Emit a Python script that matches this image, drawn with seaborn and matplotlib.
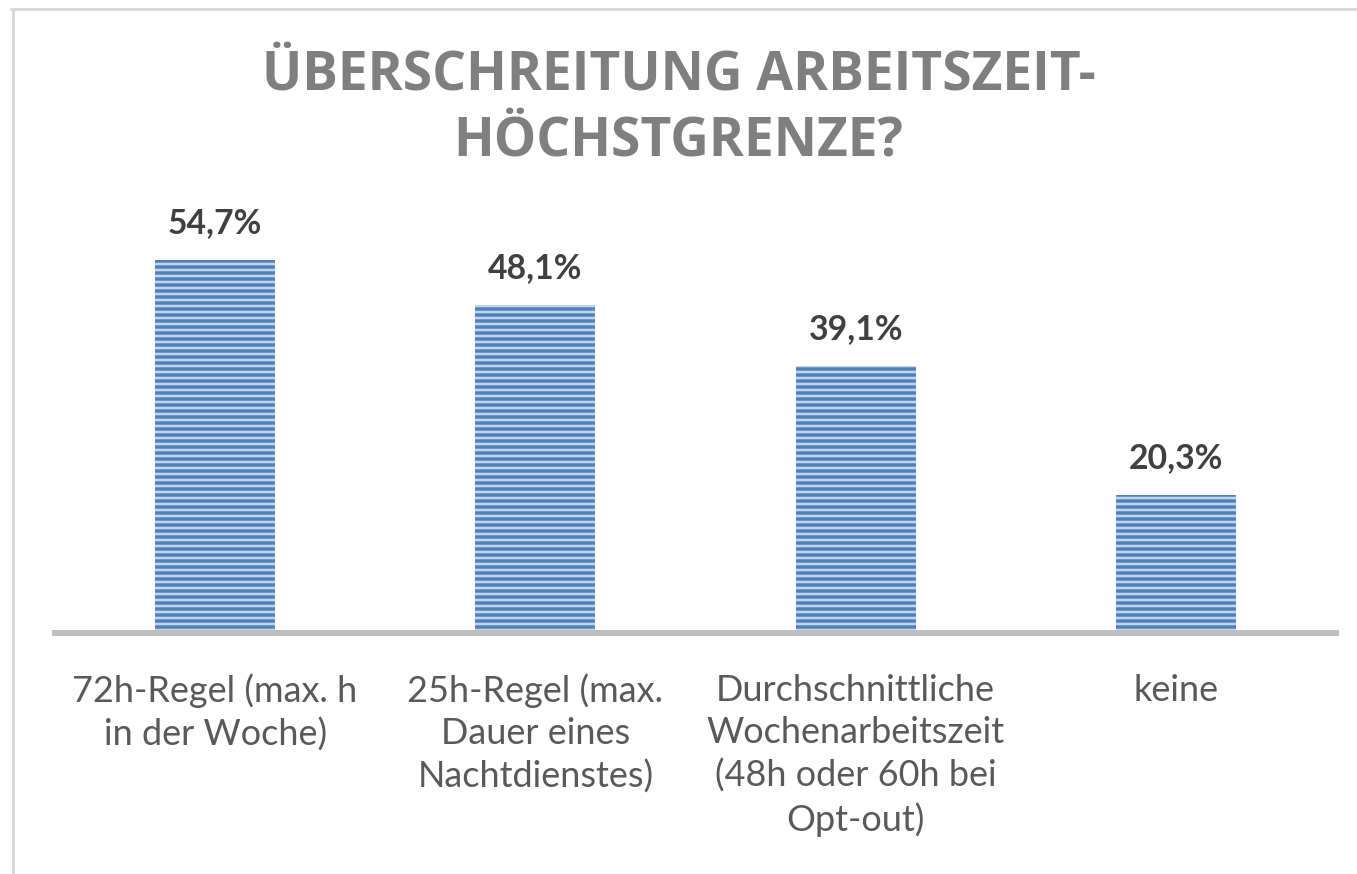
import matplotlib
matplotlib.use("Agg")
import matplotlib.pyplot as plt
import seaborn as sns
from matplotlib.lines import Line2D

categories = [
    "72h-Regel (max. h\nin der Woche)",
    "25h-Regel (max.\nDauer eines\nNachtdienstes)",
    "Durchschnittliche\nWochenarbeitszeit\n(48h oder 60h bei\nOpt-out)",
    "keine",
]
values = [54.7, 48.1, 39.1, 20.3]
value_labels = ["54,7%", "48,1%", "39,1%", "20,3%"]
title = "ÜBERSCHREITUNG ARBEITSZEIT-\nHÖCHSTGRENZE?"

DPI = 108
W, H = 1357, 874

sns.set_theme(style="white")
plt.rcParams['font.family'] = ['Lato', 'DejaVu Sans']
plt.rcParams['hatch.linewidth'] = 2.3

fig = plt.figure(figsize=(W / DPI, H / DPI), dpi=DPI)
ax = fig.add_axes([55 / W, 1 - 633 / H, 1281 / W, 409 / H])

sns.barplot(x=categories, y=values, color="#c5d5ea", saturation=1,
            width=0.375, linewidth=0, edgecolor="#4f81bd", ax=ax)
for p in ax.patches:
    p.set_hatch("---")
    p.set_edgecolor("#4f81bd")
    p.set_linewidth(0)

ax.set_ylim(0, 60)
ax.set_xlim(-0.5, 3.5)
ax.set_yticks([])
ax.set_xlabel("")
ax.set_ylabel("")
for s in ["left", "right", "top"]:
    ax.spines[s].set_visible(False)
ax.spines["bottom"].set_color("#bfbfbf")
ax.spines["bottom"].set_linewidth(4)
ax.tick_params(axis="x", length=0, pad=27, labelsize=24, labelcolor="#595959")
for t in ax.get_xticklabels():
    t.set_linespacing(1.34)

for i, (v, lab) in enumerate(zip(values, value_labels)):
    ax.annotate(lab, (i, v), xytext=(0, 18), textcoords="offset points",
                ha="center", va="baseline", fontsize=22.5, fontweight="bold",
                color="#404040")

fig.text(0.5, 1 - 48 / H, title, ha="center", va="top", fontsize=35.5,
         fontweight="bold", color="#7f7f7f", family=["Open Sans", "DejaVu Sans"],
         linespacing=1.3)

# light frame (top and left edges visible)
fig.add_artist(Line2D([12.5 / W, 12.5 / W], [0, 1 - 9.5 / H], transform=fig.transFigure,
                      color="#d9d9d9", linewidth=2))
fig.add_artist(Line2D([11 / W, 1], [1 - 9.5 / H, 1 - 9.5 / H], transform=fig.transFigure,
                      color="#d9d9d9", linewidth=2))

fig.savefig("out.png", dpi=DPI)
